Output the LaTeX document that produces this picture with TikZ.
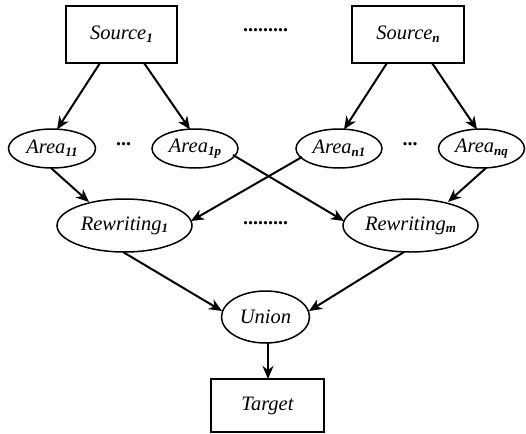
\documentclass[tikz,border=0pt]{standalone}
\usepackage{fontspec}
\setmainfont{Liberation Serif}
\usetikzlibrary{arrows.meta,shapes.geometric}
\newcommand{\subx}[1]{\raisebox{-0.3ex}{\fontsize{13}{13}\selectfont\bfseries\itshape #1}}
\tikzset{
  lbl/.style={font=\fontsize{20.5}{22}\selectfont\itshape, inner sep=0pt},
  boxnode/.style={lbl, draw, line width=1.5pt, rectangle},
  ellnode/.style={lbl, draw, line width=1.5pt, ellipse},
  dotsnode/.style={font=\fontsize{20}{22}\selectfont\bfseries, inner sep=0pt},
  arr/.style={line width=2pt, -{Stealth[length=13pt,width=11pt,inset=4pt]}},
}
\begin{document}
\begin{tikzpicture}[x=1pt,y=-1pt]
\useasboundingbox (0,0) rectangle (526,433);
\node[boxnode, minimum width=111pt, minimum height=57pt] (s1) at (121.5,34.5) {Source\subx{1}};
\node[boxnode, minimum width=112pt, minimum height=57pt] (sn) at (408,34.5) {Source\subx{n}};
\node[dotsnode] (d1) at (265.5,30) {.........};

\node[ellnode, minimum width=87pt, minimum height=39pt] (a11) at (52,148.5) {Area\subx{11}};
\node[ellnode, minimum width=86pt, minimum height=39pt] (a1p) at (195,148.5) {Area\subx{1p}};
\node[ellnode, minimum width=86pt, minimum height=39pt] (an1) at (339,148.5) {Area\subx{n1}};
\node[ellnode, minimum width=86pt, minimum height=39pt] (anq) at (481.5,148.5) {Area\subx{nq}};
\node[dotsnode] (d2) at (123.5,144) {...};
\node[dotsnode] (d3) at (410,144) {...};

\node[ellnode, minimum width=135pt, minimum height=53pt] (r1) at (124.5,225.5) {Rewriting\subx{1}};
\node[ellnode, minimum width=135pt, minimum height=53pt] (rm) at (410.5,225.5) {Rewriting\subx{m}};
\node[dotsnode] (d4) at (265.5,223) {.........};

\node[ellnode, minimum width=88pt, minimum height=52pt] (u) at (265.5,317) {Union};
\node[boxnode, minimum width=113pt, minimum height=53pt] (t) at (267.5,405.5) {Target};

\coordinate (s1a) at (100,63);
\coordinate (s1b) at (144,63);
\coordinate (sna) at (387,63);
\coordinate (snb) at (432,63);
\coordinate (a11e) at (57,129.5);
\coordinate (a1pe) at (190,129.5);
\coordinate (an1e) at (344,129.5);
\coordinate (anqe) at (477,129.5);
\draw[arr] (s1a) -- (a11e);
\draw[arr] (s1b) -- (a1pe);
\draw[arr] (sna) -- (an1e);
\draw[arr] (snb) -- (anqe);

\coordinate (a11s) at (51,168);
\coordinate (a1ps) at (233,155);
\coordinate (an1s) at (302,157);
\coordinate (anqs) at (486,168);
\coordinate (r1n) at (89,202);
\coordinate (r1e) at (191,221);
\coordinate (rmw) at (344,221);
\coordinate (rmn) at (448,202);
\draw[arr] (a11s) -- (r1n);
\draw[arr] (a1ps) -- (rmw);
\draw[arr] (an1s) -- (r1e);
\draw[arr] (anqs) -- (rmn);

\coordinate (r1s) at (123,252);
\coordinate (rms) at (404,252);
\coordinate (uw) at (222,311);
\coordinate (ue) at (309,311);
\coordinate (us) at (268,343);
\coordinate (tn) at (268,379);
\draw[arr] (r1s) -- (uw);
\draw[arr] (rms) -- (ue);
\draw[arr] (us) -- (tn);
\end{tikzpicture}
\end{document}
